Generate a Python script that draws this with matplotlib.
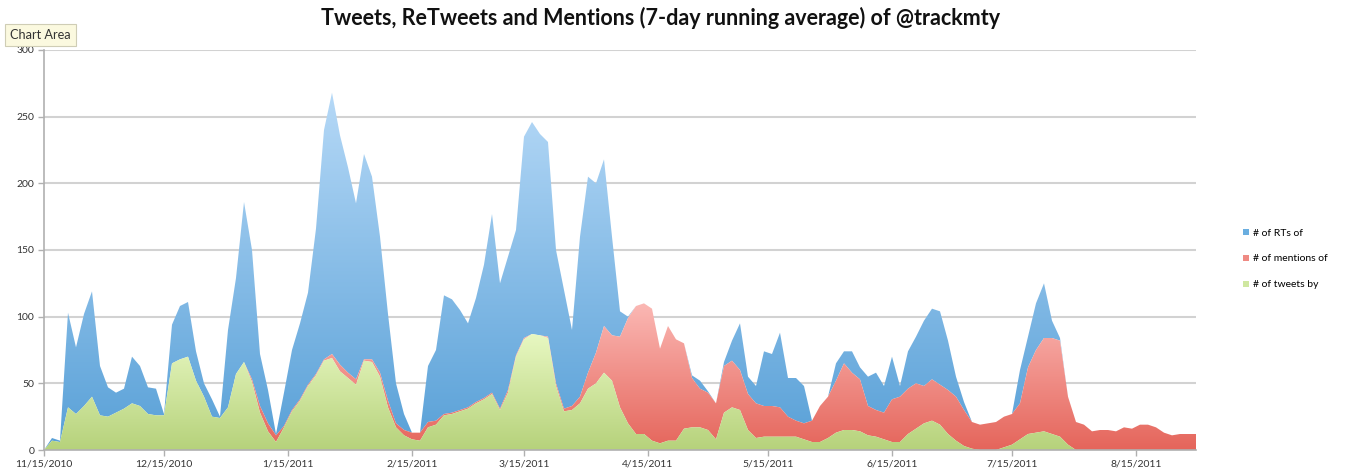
import numpy as np
import matplotlib
matplotlib.use('Agg')
import matplotlib.pyplot as plt
from matplotlib.colors import LinearSegmentedColormap
from matplotlib.lines import Line2D
import datetime as dt

# ---------------- data (7-day running averages) ----------------
start_date = dt.date(2010, 11, 15)
day_offsets = list(range(0, 289, 2))   # days since 11/15/2010

tweets = [
    0, 7, 6, 32, 27, 33, 40, 26, 25, 28,
    31, 35, 33, 27, 26, 26, 65, 68, 70, 52,
    40, 25, 24, 32, 57, 66, 51, 28, 14, 6,
    17, 29, 37, 48, 56, 67, 69, 59, 54, 49,
    67, 66, 55, 32, 17, 11, 8, 7, 17, 19,
    26, 27, 29, 31, 35, 38, 42, 30, 43, 70,
    83, 87, 86, 84, 48, 29, 30, 35, 46, 50,
    58, 52, 32, 20, 12, 12, 7, 5, 7, 7,
    16, 17, 17, 15, 8, 28, 32, 30, 15, 9,
    10, 10, 10, 10, 10, 8, 6, 6, 9, 13,
    15, 15, 14, 11, 10, 8, 6, 6, 12, 16,
    20, 22, 19, 12, 7, 3, 1, 0, 0, 0,
    2, 4, 8, 12, 13, 14, 12, 10, 4, 0,
    0, 0, 0, 0, 0, 0, 0, 0, 0, 0,
    0, 0, 0, 0, 0,
]

mentions = [
    0, 0, 0, 0, 0, 0, 0, 0, 0, 0,
    0, 0, 0, 0, 0, 0, 0, 0, 0, 0,
    0, 0, 0, 0, 0, 0, 2, 5, 6, 5,
    1, 1, 1, 1, 1, 1, 3, 5, 4, 4,
    1, 2, 3, 5, 3, 4, 5, 6, 4, 3,
    1, 1, 1, 1, 1, 1, 1, 1, 2, 1,
    1, 0, 0, 1, 2, 2, 3, 5, 12, 23,
    35, 34, 53, 79, 96, 98, 99, 71, 86, 76,
    64, 37, 29, 28, 27, 35, 35, 30, 27, 26,
    23, 23, 22, 15, 12, 12, 16, 27, 31, 39,
    50, 43, 39, 22, 20, 20, 32, 34, 34, 34,
    28, 31, 30, 33, 33, 27, 20, 19, 20, 21,
    23, 23, 27, 50, 62, 70, 72, 72, 36, 21,
    19, 14, 15, 15, 14, 17, 16, 19, 19, 17,
    13, 11, 12, 12, 12,
]

retweets = [
    0, 2, 1, 71, 50, 69, 79, 37, 22, 15,
    15, 35, 30, 20, 20, 1, 29, 40, 41, 22,
    10, 13, 1, 58, 72, 120, 97, 39, 25, 1,
    25, 45, 57, 69, 109, 172, 196, 172, 154, 132,
    154, 137, 102, 65, 30, 12, 0, 0, 42, 53,
    89, 85, 75, 63, 78, 100, 134, 94, 100, 94,
    151, 159, 151, 146, 100, 89, 57, 120, 147, 127,
    125, 74, 19, 1, 0, 0, 0, 0, 0, 0,
    0, 2, 6, 1, 0, 3, 15, 35, 13, 13,
    41, 39, 56, 29, 32, 28, 0, 0, 0, 13,
    9, 16, 9, 22, 28, 20, 32, 8, 28, 35,
    49, 53, 55, 37, 15, 6, 0, 0, 0, 0,
    0, 0, 25, 23, 35, 41, 13, 2, 0, 0,
    0, 0, 0, 0, 0, 0, 0, 0, 0, 0,
    0, 0, 0, 0, 0,
]

tick_labels = ['11/15/2010', '12/15/2010', '1/15/2011', '2/15/2011', '3/15/2011',
               '4/15/2011', '5/15/2011', '6/15/2011', '7/15/2011', '8/15/2011']
y_ticks = [0, 50, 100, 150, 200, 250, 300]
series_names = ['# of RTs of', '# of mentions of', '# of tweets by']
title = 'Tweets, ReTweets and Mentions (7-day running average) of @trackmty'

# ---------------- styling ----------------
FONT = 'Lato'
blue_top, blue_bot = '#b6d9f7', '#58a0d7'
red_top, red_bot = '#fbb8b4', '#e5655b'
green_top, green_bot = '#e8f8c2', '#b6d27b'

x = np.array(day_offsets, dtype=float)
g = np.array(tweets, dtype=float)
m = np.array(mentions, dtype=float)
r = np.array(retweets, dtype=float)
lvl1 = g
lvl2 = g + m
lvl3 = g + m + r

W, H = 1347, 474
fig = plt.figure(figsize=(W / 100, H / 100), dpi=100)
ax = fig.add_axes([44 / W, 24 / H, 1152 / W, 400 / H])


def grad_fill(lower, upper, c_top, c_bot, z):
    poly = ax.fill_between(x, lower, upper, facecolor='none', edgecolor='none',
                           linewidth=0, zorder=z)
    vmax = float(np.max(upper))
    cmap = LinearSegmentedColormap.from_list('grad', [c_bot, c_top])
    grad = np.linspace(0, 1, 256).reshape(-1, 1)
    im = ax.imshow(grad, extent=[x[0], x[-1], 0, vmax], origin='lower',
                   aspect='auto', cmap=cmap, zorder=z, interpolation='bilinear')
    for p in poly.get_paths()[:1]:
        im.set_clip_path(p, transform=ax.transData)


grad_fill(lvl2, lvl3, blue_top, blue_bot, 2)
grad_fill(lvl1, lvl2, red_top, red_bot, 3)
grad_fill(np.zeros_like(lvl1), lvl1, green_top, green_bot, 4)

ax.set_xlim(x[0], x[-1])
ax.set_ylim(0, 300)

# axes styling
ax.set_yticks(y_ticks)
ax.set_yticklabels([str(v) for v in y_ticks], fontsize=7.5, family=FONT, color='#333333')
tick_pos = []
for lab in tick_labels:
    mo, dd, yy = (int(s) for s in lab.split('/'))
    tick_pos.append((dt.date(yy, mo, dd) - start_date).days)
ax.set_xticks(tick_pos)
ax.set_xticklabels(tick_labels, fontsize=7.5, family=FONT, color='#333333')
ax.tick_params(axis='both', direction='out', length=4, width=1, color='#b0b0b0', pad=3)
ax.grid(axis='y', color='#d2d2d2', linewidth=1.5, zorder=1)
ax.set_axisbelow(True)
for s in ['top', 'right']:
    ax.spines[s].set_visible(False)
for s in ['left', 'bottom']:
    ax.spines[s].set_color('#b0b0b0')
    ax.spines[s].set_linewidth(1.2)
    ax.spines[s].set_zorder(6)

# title
fig.text(661 / W, 1 - 18 / H, title, ha='center', va='center', fontsize=15.5,
         fontweight='bold', family=FONT, color='#111111')

# "Chart Area" tooltip
fig.text(10 / W, 1 - 35 / H, 'Chart Area', ha='left', va='center', fontsize=9.2,
         family=FONT, color='#333333',
         bbox=dict(boxstyle='square,pad=0.4', fc='#fbf9df', ec='#cfcdb5', lw=0.8))

# legend
handles = [Line2D([], [], marker='s', ls='', markersize=5, color=c, markeredgewidth=0)
           for c in ['#6aaee0', '#ef8a83', '#cfe7a0']]
fig.legend(handles, series_names, loc='upper left',
           bbox_to_anchor=(1238 / W, 1 - 223 / H), frameon=False,
           prop={'family': FONT, 'size': 7.5}, handlelength=0.6,
           handletextpad=0.35, labelspacing=1.6, borderpad=0)

fig.savefig('out.png', dpi=100)
